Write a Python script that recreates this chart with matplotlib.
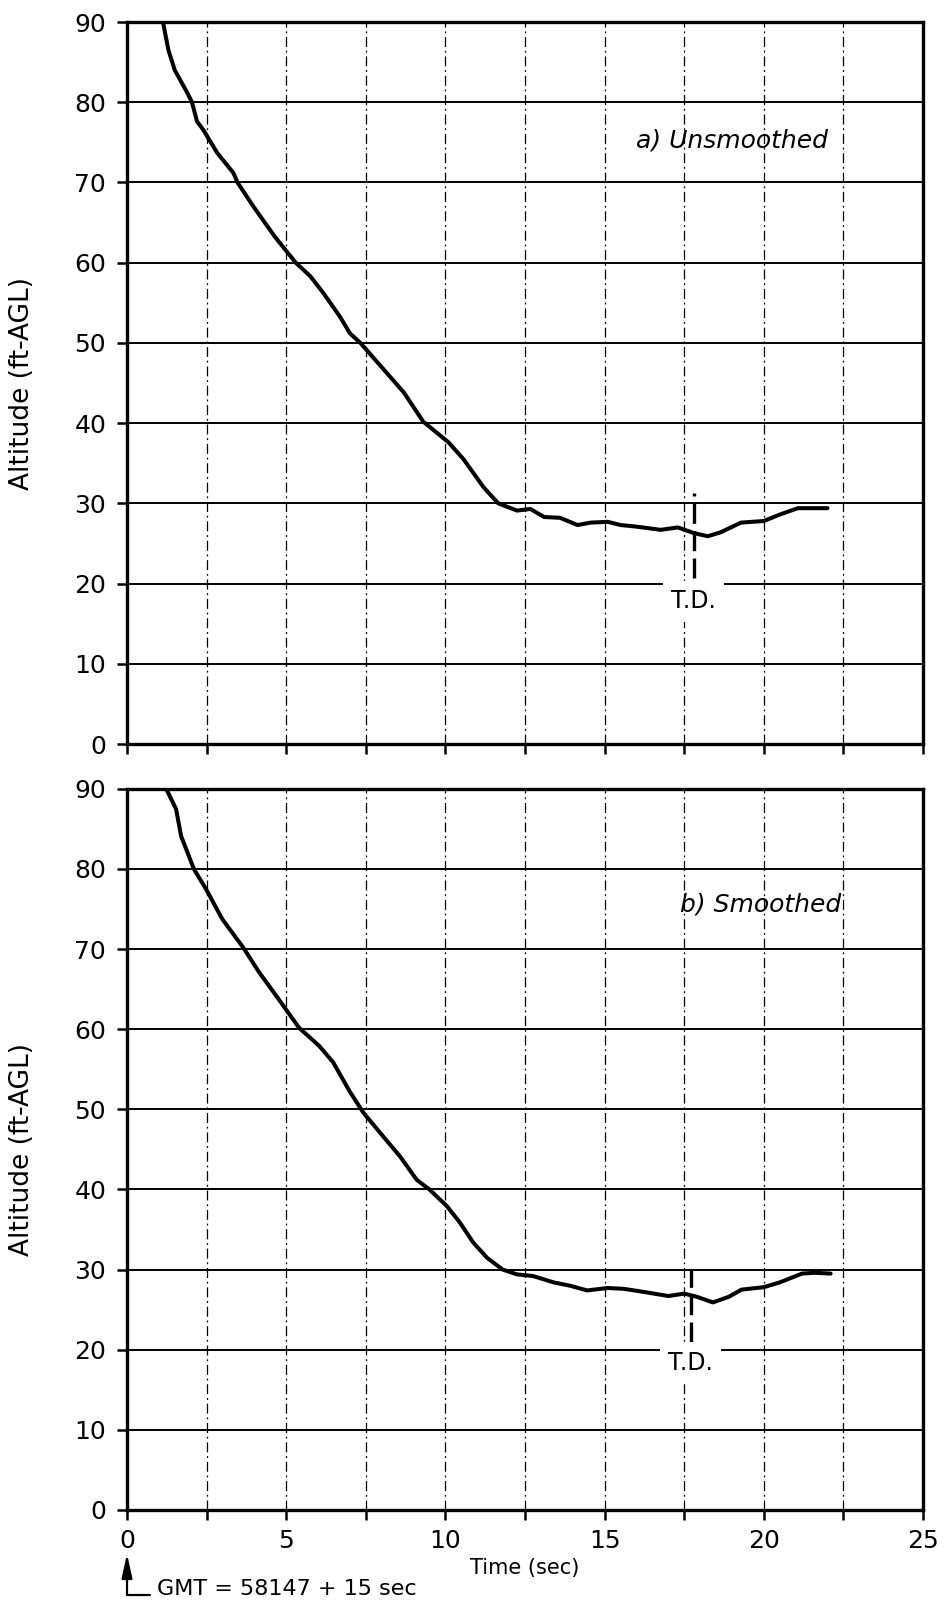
import matplotlib

matplotlib.use("Agg")
import matplotlib.pyplot as plt  # noqa: E402
from matplotlib.ticker import MultipleLocator  # noqa: E402

# altitude traces (time in sec, altitude in ft-AGL)
t_raw = [1.13, 1.3, 1.5, 1.89, 2.04, 2.2, 2.39, 2.83, 3.34, 3.47, 3.97, 4.65,
         5.3, 5.76, 6.17, 6.7, 7.0, 7.33, 8.06, 8.7, 9.3, 10.1, 10.57, 11.2,
         11.66, 12.25, 12.67, 13.1, 13.6, 14.15, 14.56, 15.1, 15.5, 16.0, 16.76,
         17.3, 17.8, 18.24, 18.65, 19.28, 20.0, 20.5, 21.07, 22.0]
alt_raw = [90, 86.5, 84.0, 81.2, 80, 77.6, 76.6, 73.7, 71.2, 70, 67, 63.2,
           60, 58.3, 56.2, 53.2, 51.2, 50, 46.7, 43.8, 40.2, 37.6, 35.5, 32,
           30, 29.1, 29.3, 28.3, 28.2, 27.3, 27.6, 27.7, 27.3, 27.1, 26.7,
           27.0, 26.3, 25.9, 26.4, 27.6, 27.8, 28.6, 29.4, 29.4]

t_smooth = [1.23, 1.54, 1.7, 2.1, 2.48, 3.0, 3.65, 4.15, 4.7, 5.4, 6.04, 6.47,
            7.0, 7.42, 8.05, 8.58, 9.1, 9.5, 10.05, 10.45, 10.87, 11.3, 11.8,
            12.25, 12.75, 13.4, 13.9, 14.45, 15.1, 15.6, 16.25, 17.0, 17.5,
            17.9, 18.4, 18.9, 19.3, 20.0, 20.5, 21.2, 21.6, 22.1]
alt_smooth = [90, 87.5, 84.1, 80, 77.5, 73.7, 70.2, 67.1, 64.1, 60.2, 57.9, 55.9,
              52.2, 49.6, 46.6, 44.1, 41.2, 40, 37.9, 35.9, 33.4, 31.5, 30,
              29.4, 29.2, 28.4, 28.0, 27.4, 27.7, 27.6, 27.2, 26.7, 27.0,
              26.6, 25.9, 26.6, 27.5, 27.8, 28.4, 29.5, 29.6, 29.5]

td_time = [17.8, 17.7]
td_span = [(20.7, 31.3), (20.9, 30.0)]
td_label_y = [17.8, 18.4]
panel_titles = ["a) Unsmoothed", "b) Smoothed"]
title_pos = [(19.0, 75.2), (19.9, 75.6)]

plt.rcParams.update({
    "font.family": ["DejaVu Sans"],
    "font.size": 15,
})

fig = plt.figure(figsize=(9.45, 16.07), dpi=100)
ax_top = fig.add_axes([0.1344, 0.537, 0.8423, 0.4493])
ax_bot = fig.add_axes([0.1344, 0.0604, 0.8423, 0.4487])


def style_panel(ax, show_xlabels):
    ax.set_xlim(0, 25)
    ax.set_ylim(0, 90)
    for side in ("left", "right", "top", "bottom"):
        ax.spines[side].set_linewidth(2.4)
    ax.xaxis.set_major_locator(MultipleLocator(5))
    ax.xaxis.set_minor_locator(MultipleLocator(2.5))
    ax.yaxis.set_major_locator(MultipleLocator(10))
    ax.tick_params(axis="both", which="both", direction="out", width=1.8,
                   length=7, labelsize=18, pad=7)
    ax.tick_params(axis="y", pad=8)
    ax.tick_params(axis="x", labelbottom=show_xlabels)
    for y in range(10, 90, 10):
        ax.axhline(y, color="black", lw=1.4, zorder=1)
    for x in [2.5 * k for k in range(1, 10)]:
        ax.axvline(x, color="black", lw=0.9, ls=(0, (8, 3, 1.5, 3)), zorder=1)
    ax.set_ylabel("Altitude (ft-AGL)", fontsize=19, labelpad=28)


for ax, t, a, td, span, ly, title, tpos, last in zip(
        (ax_top, ax_bot), (t_raw, t_smooth), (alt_raw, alt_smooth), td_time,
        td_span, td_label_y, panel_titles, title_pos, (False, True)):
    style_panel(ax, last)
    ax.plot(t, a, color="black", lw=2.9, solid_joinstyle="round",
            solid_capstyle="round", zorder=3)
    ax.plot([td, td], span, color="black", lw=2.4, ls=(0, (6, 2.2)), zorder=3)
    ax.text(td, ly, "T.D.", ha="center", va="center", fontsize=17, zorder=4,
            bbox=dict(facecolor="white", edgecolor="none", pad=6))
    ax.text(*tpos, title, ha="center", va="center", fontsize=18,
            style="italic", zorder=4)

ax_bot.set_xlabel("Time (sec)", fontsize=15, labelpad=3)

ax_bot.annotate(
    "GMT = 58147 + 15 sec", xy=(0, -0.061), xycoords=("data", "axes fraction"),
    xytext=(0.95, -0.1235), textcoords=("data", "axes fraction"),
    fontsize=16, ha="left", va="bottom", annotation_clip=False,
    arrowprops=dict(arrowstyle="-|>,head_length=0.9,head_width=0.2",
                    connectionstyle="angle,angleA=0,angleB=90,rad=0",
                    relpos=(0, 0.2), shrinkA=3, shrinkB=0, lw=1.6,
                    color="black", mutation_scale=16),
)

fig.savefig("out.png", dpi=100, facecolor="white")
